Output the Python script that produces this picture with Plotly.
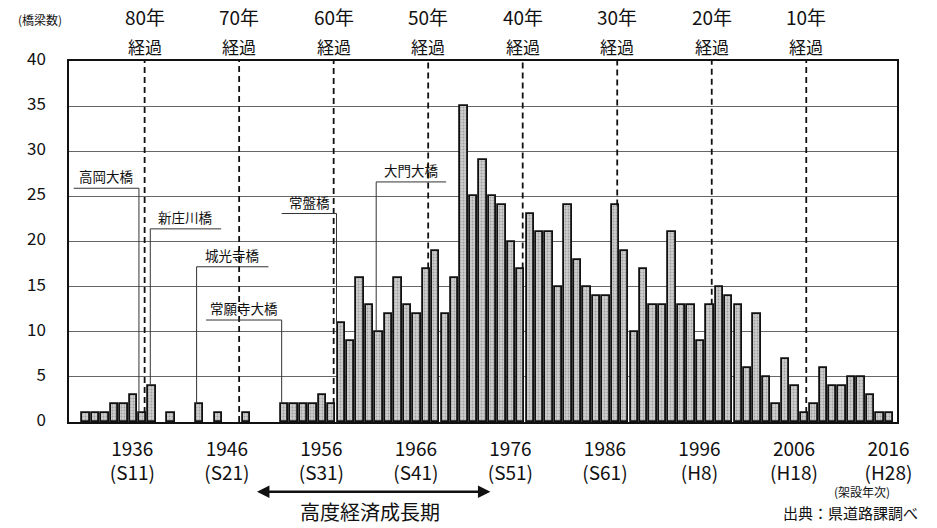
import plotly.graph_objects as go

# 架設年次と橋梁数（0本の年は省略）
years = [1930, 1931, 1932, 1933, 1934, 1935, 1936, 1937, 1939, 1942, 1944, 1947,
         1951, 1952, 1953, 1954, 1955, 1956, 1957, 1958, 1959, 1960, 1961, 1962,
         1963, 1964, 1965, 1966, 1967, 1968, 1969, 1970, 1971, 1972, 1973, 1974,
         1975, 1976, 1977, 1978, 1979, 1980, 1981, 1982, 1983, 1984, 1985, 1986,
         1987, 1988, 1989, 1990, 1991, 1992, 1993, 1994, 1995, 1996, 1997, 1998,
         1999, 2000, 2001, 2002, 2003, 2004, 2005, 2006, 2007, 2008, 2009, 2010,
         2011, 2012, 2013, 2014, 2015]
counts = [1, 1, 1, 2, 2, 3, 1, 4, 1, 2, 1, 1,
          2, 2, 2, 2, 3, 2, 11, 9, 16, 13, 10, 12,
          16, 13, 12, 17, 19, 12, 16, 35, 25, 29, 25, 24,
          20, 17, 23, 21, 21, 15, 24, 18, 15, 14, 14, 24,
          19, 10, 17, 13, 13, 21, 13, 13, 9, 13, 15, 14,
          13, 6, 12, 5, 2, 7, 4, 1, 2, 6, 4, 4,
          5, 5, 3, 1, 1]

tick_years = [1936, 1946, 1956, 1966, 1976, 1986, 1996, 2006, 2016]
tick_eras = ["S11", "S21", "S31", "S41", "S51", "S61", "H8", "H18", "H28"]

elapsed_years = [1936, 1946, 1956, 1966, 1976, 1986, 1996, 2006]
elapsed_labels = ["80年", "70年", "60年", "50年", "40年", "30年", "20年", "10年"]

bridge_names = ["高岡大橋", "新庄川橋", "城光寺橋", "常願寺大橋", "常盤橋", "大門大橋"]
bridge_years = [1936, 1937, 1942, 1951, 1957, 1961]

# 引き出し線の配置（水平線の高さ・左端・右端・縦線の位置）
callouts = [
    (25.9, 1928.7, 1935.6, 1935.6),
    (21.4, 1936.8, 1944.3, 1936.8),
    (17.2, 1941.7, 1949.3, 1941.7),
    (11.3, 1942.7, 1950.7, 1950.7),
    (23.1, 1950.7, 1956.5, 1956.5),
    (26.6, 1960.7, 1968.1, 1960.7),
]

NUM_FONT = "Liberation Sans Narrow, Arial Narrow, Noto Sans CJK JP, sans-serif"
JP_FONT = "Noto Sans CJK JP, sans-serif"

year_to_count = dict(zip(years, counts))

fig = go.Figure()

fig.add_trace(go.Bar(
    x=years,
    y=counts,
    width=0.78,
    marker=dict(
        color="#c8c8c8",
        line=dict(color="#111111", width=1.8),
        pattern=dict(shape=".", fgcolor="#707070", bgcolor="#cdcdcd", size=3, solidity=0.3),
    ),
    showlegend=False,
))

shapes = []
annotations = []

# 経過年数の破線
for yr, lab in zip(elapsed_years, elapsed_labels):
    xv = yr + 0.2
    shapes.append(dict(type="line", xref="x", yref="y", x0=xv, x1=xv,
                       y0=year_to_count.get(yr, 0), y1=40,
                       line=dict(color="#111111", width=1.8, dash="6px,4px"), layer="above"))
    annotations.append(dict(x=xv, y=1, xref="x", yref="paper", xanchor="center",
                            yanchor="bottom", yshift=29, showarrow=False, text=lab,
                            font=dict(family=NUM_FONT, size=19, color="#111111")))
    annotations.append(dict(x=xv, y=1, xref="x", yref="paper", xanchor="center",
                            yanchor="top", yshift=29, showarrow=False, text="経過",
                            font=dict(family=JP_FONT, size=17, color="#111111")))

# 橋名の引き出し線
for name, yr, (lvl, xl, xr, xv) in zip(bridge_names, bridge_years, callouts):
    shapes.append(dict(type="line", xref="x", yref="y", x0=xl, x1=xr, y0=lvl, y1=lvl,
                       line=dict(color="#333333", width=1)))
    shapes.append(dict(type="line", xref="x", yref="y", x0=xv, x1=xv, y0=lvl,
                       y1=year_to_count.get(yr, 0),
                       line=dict(color="#333333", width=1)))
    annotations.append(dict(x=(xl + xr) / 2, y=lvl, xref="x", yref="y", xanchor="center",
                            yanchor="bottom", showarrow=False, text=name,
                            font=dict(family=JP_FONT, size=13.5, color="#111111")))

annotations += [
    dict(x=-0.035, y=1.115, xref="paper", yref="paper", xanchor="center", yanchor="middle",
         showarrow=False, text="(橋梁数)",
         font=dict(family=JP_FONT, size=12, color="#111111")),
    dict(x=0.958, y=-0.193, xref="paper", yref="paper", xanchor="center", yanchor="middle",
         showarrow=False, text="(架設年次)",
         font=dict(family=JP_FONT, size=12, color="#111111")),
    dict(x=1.028, y=-0.251, xref="paper", yref="paper", xanchor="right", yanchor="middle",
         showarrow=False, text="出典：県道路課調べ",
         font=dict(family=JP_FONT, size=15, color="#111111")),
    dict(x=0.364, y=-0.249, xref="paper", yref="paper", xanchor="center", yanchor="middle",
         showarrow=False, text="高度経済成長期",
         font=dict(family=JP_FONT, size=20, color="#111111")),
    dict(x=0.509, y=-0.193, xref="paper", yref="paper", ax=-235, ay=0,
         axref="pixel", ayref="pixel", text="", showarrow=True,
         arrowhead=2, startarrowhead=2, arrowside="end+start",
         arrowwidth=2.5, arrowsize=1, arrowcolor="#111111"),
]

fig.update_layout(
    width=937, height=528,
    margin=dict(l=69, r=40, t=61, b=106, autoexpand=False),
    paper_bgcolor="white", plot_bgcolor="white",
    bargap=0,
    shapes=shapes,
    annotations=annotations,
    font=dict(family=NUM_FONT, color="#111111"),
)

fig.update_xaxes(
    range=[1928.2, 2015.8],
    tickvals=[y - 1.1 for y in tick_years],
    ticktext=[f"{y}<br>({e})" for y, e in zip(tick_years, tick_eras)],
    tickfont=dict(family=NUM_FONT, size=19),
    showgrid=False, zeroline=False,
    showline=True, linecolor="#111111", linewidth=1.5, mirror=True,
    ticks="", ticklabelstandoff=9, automargin=False,
)
fig.update_yaxes(
    range=[0, 40], dtick=5,
    tickfont=dict(family=NUM_FONT, size=17),
    showgrid=True, gridcolor="#666666", gridwidth=1,
    zeroline=False,
    showline=True, linecolor="#111111", linewidth=1.5, mirror=True,
    ticks="", ticklabelshift=-2, ticklabelstandoff=18, automargin=False,
)

# ページ既定の余白を外して、図を左上にそろえる
fig.write_html("out.html", config={"displayModeBar": False},
               post_script="document.body.style.margin='0px';")
